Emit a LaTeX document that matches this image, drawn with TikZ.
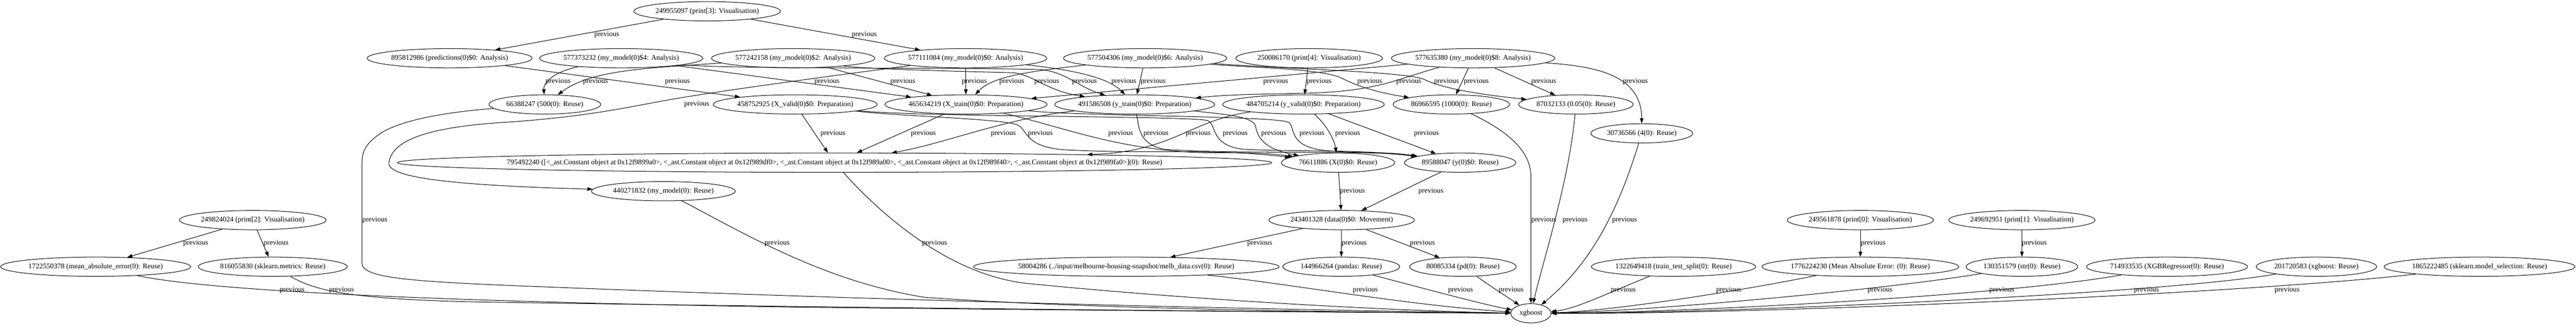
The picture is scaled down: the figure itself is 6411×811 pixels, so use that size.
\documentclass[tikz,border=0pt]{standalone}
\usepackage{fontspec}
\setmainfont{Liberation Serif}
\usetikzlibrary{shapes.geometric,arrows.meta}
\begin{document}
\begin{tikzpicture}[x=1pt,y=-1pt,
  every node/.style={font=\fontsize{18pt}{21pt}\selectfont},
  nd/.style={draw, ellipse, line width=1.3pt, inner sep=0pt, minimum height=48pt},
  e/.style={line width=1.3pt, -{Triangle[length=13pt,width=9pt]}},
  lbl/.style={inner sep=0pt}]
\useasboundingbox (0,0) rectangle (6411,811);
% ---------- nodes ----------
\node[nd, minimum width=365pt] (n249955097) at (1760,28) {249955097 (print[3]: Visualisation)};
\node[nd, minimum width=403pt] (n895812986) at (1119,145) {895812986 (predictions(0)\$0: Analysis)};
\node[nd, minimum width=405pt] (n577373232) at (1546,145) {577373232 (my\_model(0)\$4: Analysis)};
\node[nd, minimum width=403pt] (n577242158) at (1974,145) {577242158 (my\_model(0)\$2: Analysis)};
\node[nd, minimum width=403pt] (n577111084) at (2403,145) {577111084 (my\_model(0)\$0: Analysis)};
\node[nd, minimum width=405pt] (n577504306) at (2850,145) {577504306 (my\_model(0)\$6: Analysis)};
\node[nd, minimum width=365pt] (n250086170) at (3258,145) {250086170 (print[4]: Visualisation)};
\node[nd, minimum width=405pt] (n577635380) at (3666,145) {577635380 (my\_model(0)\$8: Analysis)};
\node[nd, minimum width=278pt] (n66388247) at (1356,260) {66388247 (500(0): Reuse)};
\node[nd, minimum width=404pt] (n458752925) at (1979,260) {458752925 (X\_valid(0)\$0: Preparation)};
\node[nd, minimum width=399pt] (n465634219) at (2404,260) {465634219 (X\_train(0)\$0: Preparation)};
\node[nd, minimum width=395pt] (n491586508) at (2824,260) {491586508 (y\_train(0)\$0: Preparation)};
\node[nd, minimum width=398pt] (n484705214) at (3244,260) {484705214 (y\_valid(0)\$0: Preparation)};
\node[nd, minimum width=290pt] (n86966595) at (3612,260) {86966595 (1000(0): Reuse)};
\node[nd, minimum width=285pt] (n87032133) at (3922,260) {87032133 (0.05(0): Reuse)};
\node[nd, minimum width=253pt] (n30736566) at (4086,332) {30736566 (4(0): Reuse)};
\node[nd, minimum width=2176pt, inner xsep=-49pt] (n795492240) at (2077,405) {795492240 ([<\_ast.Constant object at 0x12f9899a0>, <\_ast.Constant object at 0x12f989df0>, <\_ast.Constant object at 0x12f989a00>, <\_ast.Constant object at 0x12f989f40>, <\_ast.Constant object at 0x12f989fa0>](0): Reuse)};
\node[nd, minimum width=282pt] (n76611886) at (3330,405) {76611886 (X(0)\$0: Reuse)};
\node[nd, minimum width=277pt] (n89588047) at (3634,405) {89588047 (y(0)\$0: Reuse)};
\node[nd, minimum width=358pt] (n440271832) at (1651,476) {440271832 (my\_model(0): Reuse)};
\node[nd, minimum width=365pt] (n249824024) at (629,548) {249824024 (print[2]: Visualisation)};
\node[nd, minimum width=362pt] (n243401328) at (3339,548) {243401328 (data(0)\$0: Movement)};
\node[nd, minimum width=363pt] (n249561878) at (4630,548) {249561878 (print[0]: Visualisation)};
\node[nd, minimum width=363pt] (n249692951) at (5032,548) {249692951 (print[1]: Visualisation)};
\node[nd, minimum width=464pt] (n1722550378) at (238,664) {1722550378 (mean\_absolute\_error(0): Reuse)};
\node[nd, minimum width=371pt] (n816055830) at (679,664) {816055830 (sklearn.metrics: Reuse)};
\node[nd, minimum width=730pt] (n58004286) at (2803,664) {58004286 (../input/melbourne-housing-snapshot/melb\_data.csv(0): Reuse)};
\node[nd, minimum width=291pt] (n144966264) at (3338,664) {144966264 (pandas: Reuse)};
\node[nd, minimum width=265pt] (n80085334) at (3641,664) {80085334 (pd(0): Reuse)};
\node[nd, minimum width=404pt] (n1322649418) at (4165,664) {1322649418 (train\_test\_split(0): Reuse)};
\node[nd, minimum width=479pt] (n1776224230) at (4630,664) {1776224230 (Mean Absolute Error: (0): Reuse)};
\node[nd, minimum width=278pt] (n130351579) at (5032,664) {130351579 (str(0): Reuse)};
\node[nd, minimum width=397pt] (n714933535) at (5393,664) {714933535 (XGBRegressor(0): Reuse)};
\node[nd, minimum width=300pt] (n201720583) at (5765,664) {201720583 (xgboost: Reuse)};
\node[nd, minimum width=465pt] (n1865222485) at (6171,664) {1865222485 (sklearn.model\_selection: Reuse)};
\node[nd, minimum width=100pt] (nxgb) at (3810,780) {xgboost};
% ---------- edges ----------
\draw[e] (n249955097) -- (n895812986);
\draw[e] (n249955097) -- (n577111084);
\draw[e] (n895812986) -- (n458752925);
\draw[e] (n577373232) .. controls (1380,178) and (1352,205) .. (n66388247);
\draw[e] (n577242158) .. controls (1600,170) and (1470,175) .. (n66388247);
\draw[e] (n577111084) .. controls (2100,185) and (1850,218) .. (1697,243) .. controls (1580,262) and (1480,290) .. (1250,305) .. controls (1080,316) and (975,345) .. (968,405) .. controls (962,445) and (1150,462) .. (n440271832);
\draw[e] (n577373232) -- (n465634219);
\draw[e] (n577242158) -- (n465634219);
\draw[e] (n577111084) -- (n465634219);
\draw[e] (n577504306) .. controls (2560,178) and (2470,190) .. (n465634219);
\draw[e] (n577111084) .. controls (2680,175) and (2760,195) .. (n491586508);
\draw[e] (n577504306) -- (n491586508);
\draw[e] (n577373232) .. controls (1800,172) and (2400,168) .. (2583,173) .. controls (2650,176) and (2680,215) .. (n491586508);
\draw[e] (n577242158) .. controls (2150,172) and (2400,178) .. (2519,181) .. controls (2570,184) and (2600,225) .. (n491586508);
\draw[e] (n577635380) -- (n465634219);
\draw[e] (n577635380) .. controls (3480,195) and (3430,228) .. (3250,232) .. controls (3120,235) and (3060,235) .. (n491586508);
\draw[e] (n250086170) -- (n484705214);
\draw[e] (n577504306) .. controls (3100,168) and (3290,170) .. (3340,195) .. controls (3390,220) and (3440,232) .. (n86966595);
\draw[e] (n577504306) .. controls (3200,172) and (3500,178) .. (3545,198) .. controls (3580,215) and (3650,232) .. (n87032133);
\draw[e] (n577635380) -- (n86966595);
\draw[e] (n577635380) -- (n87032133);
\draw[e] (n577635380) .. controls (3980,165) and (4085,190) .. (n30736566);
\draw[e] (n458752925) -- (n795492240);
\draw[e] (n465634219) -- (n795492240);
\draw[e] (n491586508) .. controls (2500,295) and (2350,358) .. (n795492240);
\draw[e] (n484705214) .. controls (2960,300) and (2920,378) .. (n795492240);
\draw[e] (n458752925) .. controls (2250,290) and (2480,295) .. (2530,310) .. controls (2560,322) and (2545,365) .. (2650,373) .. controls (2900,385) and (3000,368) .. (n76611886);
\draw[e] (n465634219) .. controls (2640,315) and (2760,365) .. (2950,378) .. controls (3050,384) and (3110,375) .. (n76611886);
\draw[e] (n491586508) .. controls (2835,320) and (2835,360) .. (2900,372) .. controls (3100,385) and (3400,372) .. (n89588047);
\draw[e] (n458752925) .. controls (2300,292) and (2950,288) .. (3005,300) .. controls (3030,310) and (3010,365) .. (3100,372) .. controls (3250,378) and (3400,372) .. (n89588047);
\draw[e] (n491586508) .. controls (3050,285) and (3120,290) .. (3125,315) .. controls (3130,345) and (3150,372) .. (n76611886);
\draw[e] (n465634219) .. controls (2700,290) and (3180,288) .. (3208,305) .. controls (3225,320) and (3205,365) .. (3300,375) .. controls (3400,383) and (3450,377) .. (n89588047);
\draw[e] (n484705214) .. controls (3300,310) and (3320,345) .. (n76611886);
\draw[e] (n484705214) -- (n89588047);
\draw[e] (n76611886) -- (n243401328);
\draw[e] (n89588047) -- (n243401328);
\draw[e] (n243401328) -- (n58004286);
\draw[e] (n243401328) -- (n144966264);
\draw[e] (n243401328) -- (n80085334);
\draw[e] (n249824024) -- (n1722550378);
\draw[e] (n249824024) -- (n816055830);
\draw[e] (n249561878) -- (n1776224230);
\draw[e] (n249692951) -- (n130351579);
\draw[e] (n1722550378) .. controls (500,720) and (1000,750) .. (2000,765) .. controls (3000,776) and (3500,778) .. (nxgb);
\draw[e] (n816055830) .. controls (780,720) and (850,745) .. (1200,752) .. controls (2500,772) and (3500,778) .. (nxgb);
\draw[e] (n66388247) .. controls (1100,280) and (1000,300) .. (950,330) .. controls (905,360) and (901,380) .. (901,410) -- (901,655) .. controls (901,690) and (1000,700) .. (1300,712) .. controls (2500,760) and (3500,776) .. (nxgb);
\draw[e] (n440271832) .. controls (1850,580) and (2050,700) .. (2300,740) .. controls (2700,770) and (3400,778) .. (nxgb);
\draw[e] (n795492240) .. controls (2180,520) and (2350,680) .. (2550,705) .. controls (3000,750) and (3500,775) .. (nxgb);
\draw[e] (n58004286) .. controls (3200,705) and (3500,760) .. (nxgb);
\draw[e] (n144966264) .. controls (3550,720) and (3700,760) .. (nxgb);
\draw[e] (n80085334) .. controls (3720,720) and (3760,745) .. (nxgb);
\draw[e] (n86966595) .. controls (3760,330) and (3810,380) .. (3810,440) -- (nxgb);
\draw[e] (n87032133) .. controls (3905,450) and (3840,650) .. (nxgb);
\draw[e] (n30736566) .. controls (4040,480) and (3980,640) .. (nxgb);
\draw[e] (n1322649418) .. controls (4000,730) and (3920,770) .. (nxgb);
\draw[e] (n1776224230) .. controls (4300,730) and (4000,775) .. (nxgb);
\draw[e] (n130351579) .. controls (4700,720) and (4100,775) .. (nxgb);
\draw[e] (n714933535) .. controls (5000,735) and (4200,778) .. (nxgb);
\draw[e] (n201720583) .. controls (5400,730) and (4300,780) .. (nxgb);
\draw[e] (n1865222485) .. controls (5600,730) and (4400,782) .. (nxgb);
% ---------- labels ----------
\node[lbl] (l1) at (1510,86) {previous};
\node[lbl] (l2) at (2151,86) {previous};
\node[lbl] (l3) at (1389,203) {previous};
\node[lbl] (l4) at (1482,203) {previous};
\node[lbl] (l5) at (1686,203) {previous};
\node[lbl] (l6) at (2058,203) {previous};
\node[lbl] (l7) at (2247,203) {previous};
\node[lbl] (l8) at (2425,203) {previous};
\node[lbl] (l9) at (2518,203) {previous};
\node[lbl] (l10) at (2605,203) {previous};
\node[lbl] (l11) at (2699,203) {previous};
\node[lbl] (l12) at (2797,203) {previous};
\node[lbl] (l13) at (2870,203) {previous};
\node[lbl] (l14) at (3175,203) {previous};
\node[lbl] (l15) at (3283,203) {previous};
\node[lbl] (l16) at (3409,203) {previous};
\node[lbl] (l17) at (3506,203) {previous};
\node[lbl] (l18) at (3600,203) {previous};
\node[lbl] (l19) at (3674,203) {previous};
\node[lbl] (l20) at (3842,203) {previous};
\node[lbl] (l21) at (4070,203) {previous};
\node[lbl] (l22) at (1734,260) {previous};
\node[lbl] (l23) at (2073,332) {previous};
\node[lbl] (l24) at (2298,332) {previous};
\node[lbl] (l25) at (2497,332) {previous};
\node[lbl] (l26) at (2589,332) {previous};
\node[lbl] (l27) at (2789,332) {previous};
\node[lbl] (l28) at (2877,332) {previous};
\node[lbl] (l29) at (2982,332) {previous};
\node[lbl] (l30) at (3074,332) {previous};
\node[lbl] (l31) at (3170,332) {previous};
\node[lbl] (l32) at (3265,332) {previous};
\node[lbl] (l33) at (3354,332) {previous};
\node[lbl] (l34) at (3550,332) {previous};
\node[lbl] (l35) at (3366,476) {previous};
\node[lbl] (l36) at (3561,476) {previous};
\node[lbl] (l37) at (933,548) {previous};
\node[lbl] (l38) at (3842,548) {previous};
\node[lbl] (l39) at (3920,548) {previous};
\node[lbl] (l40) at (4043,548) {previous};
\node[lbl] (l41) at (487,606) {previous};
\node[lbl] (l42) at (687,606) {previous};
\node[lbl] (l43) at (1934,606) {previous};
\node[lbl] (l44) at (2326,606) {previous};
\node[lbl] (l45) at (3135,606) {previous};
\node[lbl] (l46) at (3370,606) {previous};
\node[lbl] (l47) at (3540,606) {previous};
\node[lbl] (l48) at (4662,606) {previous};
\node[lbl] (l49) at (5063,606) {previous};
\node[lbl] (l50) at (727,722) {previous};
\node[lbl] (l51) at (850,722) {previous};
\node[lbl] (l52) at (3398,722) {previous};
\node[lbl] (l53) at (3635,722) {previous};
\node[lbl] (l54) at (3761,722) {previous};
\node[lbl] (l55) at (4040,722) {previous};
\node[lbl] (l56) at (4302,722) {previous};
\node[lbl] (l57) at (4679,722) {previous};
\node[lbl] (l58) at (4982,722) {previous};
\node[lbl] (l59) at (5342,722) {previous};
\node[lbl] (l60) at (5692,722) {previous};
\end{tikzpicture}
\end{document}
